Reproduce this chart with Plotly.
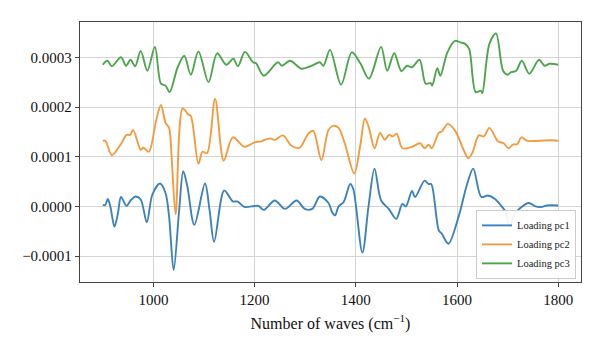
import numpy as np
import plotly.graph_objects as go

# Loading values are given in units of 1e-4
SCALE = 1e-4

pc1_x = [900, 905, 910, 915, 923, 930, 936, 947, 955, 965, 975, 987, 998, 1013, 1024, 1031, 1040,
         1051, 1059, 1067, 1081, 1102, 1111, 1120, 1140, 1157, 1166, 1180, 1200, 1208, 1218, 1240,
         1260, 1283, 1299, 1314, 1329, 1346, 1353, 1359, 1366, 1376, 1389, 1395, 1413, 1425, 1437,
         1450, 1465, 1480, 1492, 1499, 1511, 1517, 1536, 1544, 1549, 1564, 1570, 1583, 1603, 1620,
         1632, 1648, 1661, 1675, 1689, 1696, 1704, 1712, 1725, 1742, 1755, 1768, 1778, 1800]
pc1_y = [0.03, 0.03, 0.15, 0.0, -0.41, -0.14, 0.19, 0.01, 0.12, 0.2, 0.14, -0.32, 0.24, 0.46, 0.27, -0.2, -1.28,
         -0.07, 0.71, 0.41, -0.37, 0.46, -0.07, -0.71, 0.32, 0.1, 0.1, -0.01, 0.01, 0.01, -0.07, 0.12,
         -0.05, 0.12, -0.05, -0.05, 0.2, 0.07, -0.11, -0.18, 0.0, 0.09, 0.45, 0.35, -0.93, -0.01, 0.76,
         0.12, -0.05, -0.25, 0.05, 0.0, 0.31, 0.19, 0.52, 0.45, 0.45, -0.48, -0.55, -0.75, -0.21, 0.45,
         0.76, 0.19, 0.22, 0.15, -0.01, -0.11, -0.41, -0.18, -0.03, 0.07, 0.0, -0.01, 0.02, 0.02]

pc2_x = [900, 905, 918, 935, 947, 954, 960, 975, 980, 991, 1005, 1015, 1024, 1031, 1036, 1044,
         1058, 1069, 1074, 1089, 1097, 1106, 1122, 1139, 1157, 1180, 1200, 1213, 1230, 1240, 1256,
         1273, 1289, 1306, 1316, 1332, 1346, 1355, 1366, 1379, 1397, 1409, 1418, 1426, 1437, 1448,
         1457, 1466, 1473, 1481, 1492, 1511, 1527, 1536, 1544, 1550, 1564, 1570, 1582, 1597, 1613,
         1622, 1630, 1643, 1653, 1664, 1681, 1692, 1702, 1711, 1719, 1727, 1739, 1762, 1788, 1800]
pc2_y = [1.32, 1.32, 1.03, 1.24, 1.44, 1.44, 1.54, 1.14, 1.18, 1.1, 1.71, 2.04, 1.68, 1.58, 1.0, -0.16,
         1.97, 1.85, 1.82, 0.86, 1.1, 1.07, 2.16, 0.92, 1.39, 1.2, 1.29, 1.31, 1.37, 1.34, 1.43,
         1.22, 1.18, 1.46, 1.52, 0.93, 1.54, 1.62, 1.58, 1.24, 0.66, 1.24, 1.77, 1.58, 1.17, 1.48,
         1.34, 1.44, 1.41, 1.46, 1.17, 1.2, 1.27, 1.17, 1.24, 1.17, 1.48, 1.51, 1.66, 1.51, 1.14,
         0.97, 1.07, 1.43, 1.41, 1.58, 1.31, 1.27, 1.17, 1.25, 1.25, 1.39, 1.32, 1.32, 1.33, 1.32]

pc3_x = [900, 909, 918, 936, 946, 955, 964, 975, 988, 1003, 1015, 1024, 1032, 1048, 1061, 1074,
         1089, 1109, 1126, 1144, 1158, 1167, 1181, 1197, 1203, 1218, 1246, 1254, 1270, 1293, 1313,
         1329, 1336, 1349, 1371, 1392, 1409, 1426, 1450, 1462, 1476, 1490, 1501, 1511, 1526, 1538,
         1548, 1551, 1561, 1567, 1581, 1596, 1607, 1616, 1624, 1637, 1647, 1650, 1664, 1677, 1691,
         1700, 1707, 1717, 1728, 1743, 1762, 1773, 1783, 1800]
pc3_y = [2.85, 2.93, 2.82, 3.0, 2.83, 2.95, 2.82, 3.13, 2.73, 3.21, 2.47, 2.43, 2.3, 2.8, 3.03, 2.65,
         3.12, 2.5, 3.08, 2.85, 2.97, 2.82, 3.11, 2.9, 2.88, 2.63, 2.9, 2.83, 2.93, 2.77, 2.83,
         2.9, 2.83, 3.15, 2.45, 3.1, 2.88, 2.57, 3.21, 2.73, 3.08, 2.72, 2.83, 2.8, 2.95, 2.47,
         2.48, 2.43, 2.78, 2.63, 3.1, 3.33, 3.3, 3.27, 3.17, 2.3, 2.33, 2.28, 3.27, 3.48, 2.73,
         2.65, 2.7, 2.73, 2.93, 2.67, 2.95, 2.83, 2.87, 2.85]

series_names = ["Loading pc1", "Loading pc2", "Loading pc3"]
colors = ["#3d82ba", "#f59b3f", "#4ea64c"]

x_ticks = [1000, 1200, 1400, 1600, 1800]
y_ticks = [-0.0001, 0.0, 0.0001, 0.0002, 0.0003]
y_tick_text = ["\u22120.0001", "0.0000", "0.0001", "0.0002", "0.0003"]
x_title = "Number of waves (cm<sup>\u22121</sup>)"

font_family = "Liberation Serif, Times New Roman, serif"

fig = go.Figure()
for name, xs, ys, c in zip(series_names, [pc1_x, pc2_x, pc3_x], [pc1_y, pc2_y, pc3_y], colors):
    fig.add_trace(go.Scatter(
        x=xs, y=np.array(ys) * SCALE, mode="lines", name=name,
        line=dict(color=c, width=1.9, shape="spline", smoothing=0.9),
    ))

fig.update_layout(
    width=600, height=347,
    margin=dict(l=80, r=19, t=22, b=65),
    paper_bgcolor="white", plot_bgcolor="white",
    font=dict(family=font_family, color="#111", size=15),
    showlegend=True,
    legend=dict(
        x=0.99, y=0.012, xanchor="right", yanchor="bottom",
        bgcolor="rgba(255,255,255,0.92)", bordercolor="#cccccc", borderwidth=1,
        font=dict(family=font_family, size=10.5, color="#222"),
        itemwidth=30, tracegroupgap=0,
    ),
)
fig.update_xaxes(
    range=[855, 1845], tickvals=x_ticks,
    showgrid=True, gridcolor="#d4d4d4", gridwidth=1.3,
    showline=True, linecolor="#444", linewidth=1.3, mirror=True,
    ticks="outside", ticklen=4, tickcolor="#444",
    zeroline=False,
    title=dict(text=x_title, font=dict(family=font_family, size=16, color="#111"), standoff=10),
    tickfont=dict(size=15),
)
fig.update_yaxes(
    range=[-0.000152, 0.000371], tickvals=y_ticks, ticktext=y_tick_text,
    showgrid=True, gridcolor="#d4d4d4", gridwidth=1.3,
    showline=True, linecolor="#444", linewidth=1.3, mirror=True,
    ticks="outside", ticklen=4, tickcolor="#444",
    zeroline=False,
    tickfont=dict(size=15),
)

fig.write_html("out.html")
